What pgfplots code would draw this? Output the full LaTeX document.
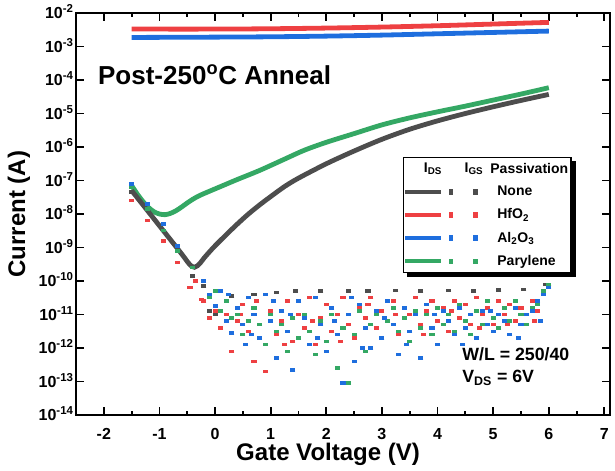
\documentclass[border=0pt]{standalone}
\usepackage{fontspec}
\setmainfont{Liberation Sans}
\usepackage{pgfplots}
\usepackage{pgfplotstable}
\pgfplotsset{compat=1.18}
\definecolor{cgray}{RGB}{77,77,77}
\definecolor{cred}{RGB}{238,64,66}
\definecolor{cblue}{RGB}{30,110,222}
\definecolor{cgreen}{RGB}{52,168,100}

% I_DS (log10 of current)
\pgfplotstableread{
x ly
-1.5 -7.30
-1.3 -7.72
-1.1 -8.14
-0.9 -8.56
-0.7 -8.98
-0.56 -9.28
-0.48 -9.46
-0.42 -9.56
-0.37 -9.59
-0.32 -9.55
-0.26 -9.45
-0.2 -9.32
-0.1 -9.13
0.0 -8.95
0.2 -8.62
0.4 -8.30
0.6 -8.00
0.8 -7.73
1.0 -7.48
1.25 -7.18
1.5 -6.93
2.0 -6.50
2.5 -6.12
3.0 -5.77
3.5 -5.47
4.0 -5.22
4.5 -5.00
5.0 -4.80
5.5 -4.61
6.0 -4.43
}\idsnone
\pgfplotstableread{
x ly
-1.5 -7.15
-1.4 -7.40
-1.3 -7.62
-1.2 -7.80
-1.1 -7.93
-1.0 -8.00
-0.9 -8.02
-0.8 -7.98
-0.7 -7.90
-0.6 -7.79
-0.5 -7.67
-0.4 -7.56
-0.28 -7.45
-0.1 -7.32
0.0 -7.25
0.2 -7.11
0.4 -6.97
0.8 -6.70
1.2 -6.40
1.6 -6.10
2.0 -5.86
2.5 -5.60
3.0 -5.34
3.5 -5.13
4.0 -4.95
4.5 -4.78
5.0 -4.60
5.5 -4.42
6.0 -4.23
}\idspary
\pgfplotstableread{
x ly
-1.5 -2.48
0.0 -2.48
1.0 -2.47
2.0 -2.45
3.0 -2.42
4.0 -2.38
5.0 -2.33
6.0 -2.28
}\idshfo
\pgfplotstableread{
x ly
-1.5 -2.73
0.0 -2.72
1.0 -2.71
2.0 -2.69
3.0 -2.66
4.0 -2.62
5.0 -2.58
6.0 -2.54
}\idsalo

% I_GS (log10 of current)
\pgfplotstableread{
x ly
-1.5 -7.35
-0.4 -9.85
-0.2 -10.15
-0.1 -10.9
0.0 -11.0
0.3 -10.45
0.7 -10.4
1.1 -10.35
1.45 -10.3
1.9 -10.3
2.4 -10.3
2.75 -10.3
3.25 -10.28
3.7 -10.3
4.2 -10.28
4.65 -10.3
5.1 -10.27
5.55 -10.25
5.95 -10.1
}\igsnone
\pgfplotstableread{
x ly
-1.5 -7.6
-1.22 -8.2
-0.93 -8.8
-0.68 -9.45
-0.45 -10.2
-0.35 -10.0
-0.25 -10.56
-0.2 -10.6
-0.1 -11.1
0.0 -10.9
0.1 -11.4
0.2 -11.0
0.3 -12.1
0.4 -11.2
0.45 -11.0
0.5 -10.7
0.6 -11.5
0.7 -12.4
0.75 -10.6
0.8 -11.3
0.9 -12.7
1.0 -10.9
1.1 -11.6
1.2 -11.2
1.25 -11.9
1.3 -10.6
1.4 -11.8
1.5 -11.0
1.6 -11.4
1.7 -10.5
1.75 -11.2
1.8 -11.9
1.9 -11.1
2.0 -10.7
2.1 -11.5
2.2 -11.0
2.25 -11.8
2.3 -10.5
2.4 -11.3
2.5 -11.7
2.6 -10.8
2.7 -11.1
2.75 -10.7
2.8 -10.5
2.9 -11.4
3.0 -10.9
3.1 -11.2
3.2 -10.6
3.25 -11.0
3.3 -11.6
3.4 -10.8
3.5 -11.0
3.6 -10.5
3.7 -11.3
3.75 -11.6
3.8 -10.9
3.9 -10.6
4.0 -11.2
4.1 -10.8
4.2 -11.5
4.25 -10.9
4.3 -10.6
4.4 -11.1
4.5 -10.7
4.6 -11.3
4.7 -10.5
4.75 -11.4
4.8 -11.0
4.9 -10.8
5.0 -11.3
5.1 -10.6
5.2 -11.0
5.25 -11.3
5.3 -10.7
5.4 -11.2
5.5 -10.8
5.6 -11.0
5.7 -10.6
5.75 -11.2
5.8 -10.9
5.9 -10.3
6.0 -10.1
}\igshfo
\pgfplotstableread{
x ly
-1.5 -7.1
-1.22 -7.7
-0.93 -8.3
-0.68 -8.95
-0.2 -10.0
-0.1 -10.4
0.0 -10.75
0.1 -10.3
0.2 -11.2
0.25 -10.4
0.3 -11.55
0.4 -10.8
0.5 -11.3
0.55 -11.9
0.6 -10.5
0.65 -11.6
0.7 -11.0
0.8 -11.7
0.9 -10.4
1.0 -11.2
1.05 -10.6
1.1 -12.3
1.2 -10.9
1.3 -11.5
1.35 -11.0
1.4 -12.66
1.5 -10.6
1.6 -11.1
1.7 -11.9
1.8 -10.5
1.85 -11.7
1.9 -11.3
2.0 -12.1
2.1 -10.8
2.15 -11.2
2.2 -11.6
2.3 -13.05
2.4 -11.0
2.45 -10.5
2.5 -12.4
2.6 -10.7
2.65 -12.0
2.7 -11.4
2.8 -12.0
2.9 -10.9
3.0 -11.7
3.05 -11.1
3.1 -10.6
3.2 -11.3
3.3 -12.2
3.4 -10.8
3.45 -11.9
3.5 -11.5
3.6 -11.0
3.7 -12.3
3.8 -10.7
3.9 -11.4
3.95 -11.0
4.0 -11.9
4.1 -10.9
4.2 -11.2
4.3 -11.6
4.4 -10.8
4.45 -11.9
4.5 -11.4
4.6 -11.0
4.7 -11.7
4.8 -10.9
4.9 -11.3
4.95 -10.9
5.0 -11.5
5.1 -11.0
5.2 -11.2
5.3 -11.6
5.4 -10.8
5.45 -11.7
5.5 -11.3
5.6 -11.0
5.7 -10.9
5.8 -10.6
5.85 -11.2
5.9 -10.4
6.0 -10.2
}\igsalo
\pgfplotstableread{
x ly
-1.5 -7.2
-1.22 -7.85
-0.93 -8.5
-0.68 -9.1
-0.4 -9.6
-0.1 -10.5
0.0 -10.3
0.1 -10.9
0.2 -10.6
0.3 -11.1
0.4 -11.0
0.5 -11.6
0.6 -11.2
0.7 -10.8
0.8 -11.3
0.9 -11.9
1.0 -11.0
1.1 -11.5
1.2 -11.3
1.3 -12.1
1.4 -11.1
1.5 -11.7
1.6 -11.0
1.7 -11.5
1.8 -12.2
1.9 -11.2
2.0 -11.8
2.1 -11.0
2.2 -12.6
2.3 -11.4
2.4 -13.05
2.5 -11.6
2.6 -10.9
2.7 -12.1
2.8 -11.3
2.9 -11.0
3.0 -11.7
3.1 -11.2
3.2 -10.8
3.3 -11.5
3.4 -11.1
3.5 -11.8
3.6 -10.9
3.7 -11.4
3.8 -11.0
3.9 -11.6
4.0 -10.8
4.1 -11.3
4.2 -11.0
4.3 -11.5
4.4 -10.7
4.5 -11.2
4.6 -11.6
4.7 -10.9
4.8 -11.3
4.9 -10.6
5.0 -11.1
5.1 -11.4
5.2 -10.8
5.3 -11.2
5.4 -10.6
5.5 -11.0
5.6 -11.3
5.7 -10.8
5.8 -10.7
5.9 -10.3
6.0 -10.1
}\igspary

\newcommand\legimg[1]{\addlegendimage{legend image code/.code={
  \draw[#1, line width=2.8pt] (0pt,0pt) -- (27pt,0pt);
  \fill[#1] (33pt,-1.5pt) rectangle (35.5pt,1.5pt);
  \fill[#1] (51.5pt,-1.5pt) rectangle (54pt,1.5pt);}}}

\begin{document}
\begin{tikzpicture}
\useasboundingbox (-57pt,-42pt) rectangle (404.25pt,311.25pt);
\begin{axis}[
  at={(0pt,0pt)}, anchor=south west,
  scale only axis, width=400.5pt, height=301.5pt,
  xmin=-2.5, xmax=7.1,
  ymode=log, log basis y=10,
  ymin=1e-14, ymax=1e-2,
  xtick={-2,-1,0,1,2,3,4,5,6,7},
  minor x tick num=1,
  ytick={1e-14,1e-13,1e-12,1e-11,1e-10,1e-9,1e-8,1e-7,1e-6,1e-5,1e-4,1e-3,1e-2},
  axis line style={line width=2pt},
  every tick/.style={black, line width=1.4pt},
  major tick length=6pt, minor tick length=3.2pt,
  tick label style={font=\fontsize{12}{14}\selectfont\bfseries},
  /pgf/number format/assume math mode=true,
  xticklabel style={yshift=-6.8pt},
  yticklabel={\pgfmathtruncatemacro\ex{round(\tick)}10\textsuperscript{\fontsize{8.6}{9}\selectfont\ex}},
  yticklabel style={anchor=base east, inner xsep=1.5pt, yshift=-4.3pt},
  xlabel={Gate Voltage (V)},
  ylabel={Current (A)},
  xlabel style={at={(axis description cs:0.472,-0.099)}, anchor=center, font=\fontsize{18}{20}\selectfont\bfseries},
  ylabel style={at={(axis description cs:-0.107,0.5)}, anchor=center, font=\fontsize{18}{20}\selectfont\bfseries},
  legend style={name=leg, at={(rel axis cs:0.612,0.642)}, anchor=north west,
    draw=black, line width=1pt, fill=white,
    font=\fontsize{10.5}{12}\selectfont\bfseries,
    row sep=4.3pt, inner xsep=0pt, inner ysep=2pt,
    /tikz/every odd column/.style={column sep=8.5pt}},
  legend cell align=left,
]
\addplot[forget plot, only marks, mark=-, mark size=1.9pt, cgray, mark options={line width=2.6pt}] table[x=x, y expr=10^(\thisrow{ly})] {\igsnone};
\addplot[forget plot, only marks, mark=-, mark size=1.9pt, cred, mark options={line width=2.6pt}] table[x=x, y expr=10^(\thisrow{ly})] {\igshfo};
\addplot[forget plot, only marks, mark=-, mark size=1.9pt, cgreen, mark options={line width=2.6pt}] table[x=x, y expr=10^(\thisrow{ly})] {\igspary};
\addplot[forget plot, only marks, mark=-, mark size=1.9pt, cblue, mark options={line width=2.6pt}] table[x=x, y expr=10^(\thisrow{ly})] {\igsalo};

\addplot[forget plot, no marks, smooth, cgreen, line width=3.6pt] table[x=x, y expr=10^(\thisrow{ly})] {\idspary};
\addplot[forget plot, no marks, smooth, cgray, line width=3.6pt] table[x=x, y expr=10^(\thisrow{ly})] {\idsnone};
\addplot[forget plot, no marks, smooth, cred, line width=3.6pt] table[x=x, y expr=10^(\thisrow{ly})] {\idshfo};
\addplot[forget plot, no marks, smooth, cblue, line width=3.6pt] table[x=x, y expr=10^(\thisrow{ly})] {\idsalo};

\addlegendimage{legend image code/.code={
  \node[inner sep=0pt] at (13.5pt,0pt) {I\textsubscript{DS}};
  \node[inner sep=0pt] at (44pt,0pt) {I\textsubscript{GS}};}}
\addlegendentry{\hspace*{-5.25pt}Passivation}
\legimg{cgray}\addlegendentry{None}
\legimg{cred}\addlegendentry{HfO\textsubscript{2}}
\legimg{cblue}\addlegendentry{Al\textsubscript{2}O\textsubscript{3}}
\legimg{cgreen}\addlegendentry{Parylene}

\node[anchor=west, inner sep=0pt, font=\fontsize{19.5}{23}\selectfont\bfseries] at (rel axis cs:0.041,0.846) {Post-250\textsuperscript{o}C Anneal};
\node[anchor=west, inner sep=0pt, font=\fontsize{13.3}{15}\selectfont\bfseries] at (rel axis cs:0.723,0.152) {W/L = 250/40};
\node[anchor=west, inner sep=0pt, font=\fontsize{13.3}{15}\selectfont\bfseries] at (rel axis cs:0.723,0.092) {V\textsubscript{DS} = 6V};
\end{axis}
\fill[black] ([yshift=-3pt]leg.north east) rectangle ([xshift=3pt,yshift=-3pt]leg.south east);
\fill[black] ([xshift=3pt]leg.south west) rectangle ([xshift=3pt,yshift=-3pt]leg.south east);
\end{tikzpicture}
\end{document}
